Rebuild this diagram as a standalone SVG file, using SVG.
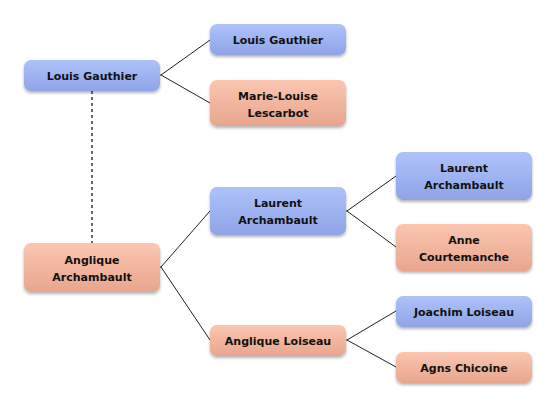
<svg xmlns="http://www.w3.org/2000/svg" width="556" height="408" viewBox="0 0 556 408">
<defs>
<linearGradient id="gb" x1="0" y1="0" x2="0" y2="1"><stop offset="0" stop-color="#aec2fa"/><stop offset="1" stop-color="#8ea4e6"/></linearGradient>
<linearGradient id="gs" x1="0" y1="0" x2="0" y2="1"><stop offset="0" stop-color="#fbc6b0"/><stop offset="1" stop-color="#e8a58e"/></linearGradient>
<filter id="sh" x="-10%" y="-20%" width="120%" height="150%"><feGaussianBlur in="SourceAlpha" stdDeviation="1.5"/><feOffset dy="2" result="b"/><feFlood flood-color="#000" flood-opacity="0.3"/><feComposite in2="b" operator="in"/><feMerge><feMergeNode/><feMergeNode in="SourceGraphic"/></feMerge></filter>
</defs>
<style>
.b{fill:url(#gb);filter:url(#sh)}
.s{fill:url(#gs);filter:url(#sh)}
text{font-family:"DejaVu Sans",sans-serif;font-weight:bold;font-size:11px;fill:#111;text-anchor:middle}
.c line,.c path{stroke:#222;stroke-width:1;fill:none}
</style>
<rect width="556" height="408" fill="#fff"/>
<g class="c">
<path d="M160 75 L161 75 L210 40 M161 75 L210 103"/>
<line x1="92" y1="91" x2="92" y2="243" stroke-dasharray="3,3" style="stroke:#666;stroke-width:2"/>
<path d="M160 267 L161 267 L210 211 M161 267 L210 340"/>
<path d="M346 211 L347 211 L396 176 M347 211 L396 247"/>
<path d="M346 340 L347 340 L396 311 M347 340 L396 367"/>
</g>
<g id="n1"><rect class="b" x="24" y="60" width="136" height="31" rx="7"/><text x="92" y="79.5">Louis Gauthier</text></g>
<g id="n2"><rect class="b" x="210" y="24" width="136" height="31" rx="7"/><text x="278" y="43.5">Louis Gauthier</text></g>
<g id="n3"><rect class="s" x="210" y="80" width="136" height="46" rx="7"/><text x="278" y="100">Marie-Louise</text><text x="278" y="117">Lescarbot</text></g>
<g id="n4"><rect class="s" x="24" y="243" width="136" height="49" rx="7"/><text x="92" y="264">Anglique</text><text x="92" y="281">Archambault</text></g>
<g id="n5"><rect class="b" x="210" y="187" width="136" height="48" rx="7"/><text x="278" y="207">Laurent</text><text x="278" y="224">Archambault</text></g>
<g id="n6"><rect class="s" x="210" y="325" width="136" height="31" rx="7"/><text x="278" y="344.5">Anglique Loiseau</text></g>
<g id="n7"><rect class="b" x="396" y="152" width="136" height="48" rx="7"/><text x="464" y="172">Laurent</text><text x="464" y="189">Archambault</text></g>
<g id="n8"><rect class="s" x="396" y="224" width="136" height="47" rx="7"/><text x="464" y="244">Anne</text><text x="464" y="261">Courtemanche</text></g>
<g id="n9"><rect class="b" x="396" y="296" width="136" height="31" rx="7"/><text x="464" y="315.5">Joachim Loiseau</text></g>
<g id="n10"><rect class="s" x="396" y="352" width="136" height="31" rx="7"/><text x="464" y="371.5">Agns Chicoine</text></g>
</svg>
